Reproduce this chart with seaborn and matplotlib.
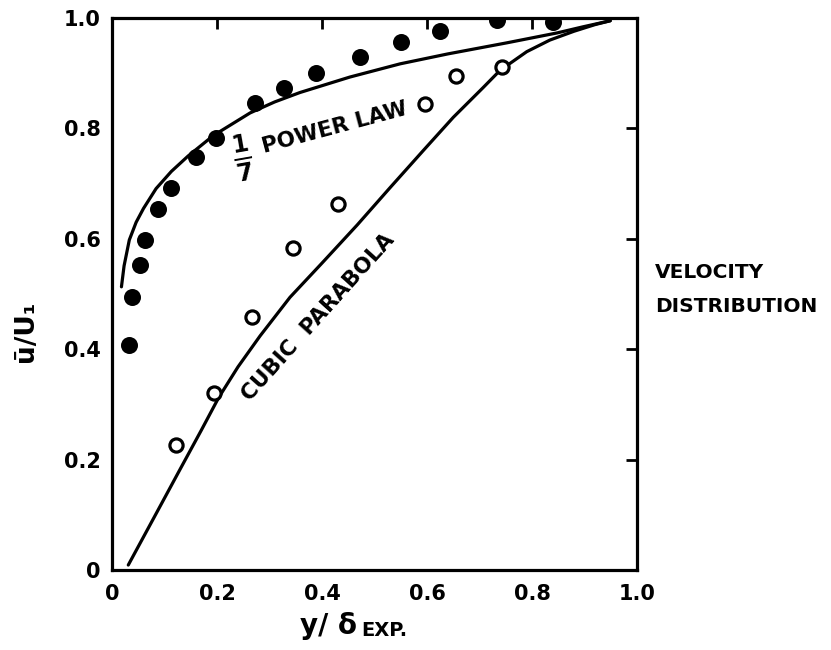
import matplotlib
matplotlib.use("Agg")
import matplotlib.pyplot as plt
import seaborn as sns
import pandas as pd

# Measured points: filled circles
filled_x = [0.032, 0.038, 0.053, 0.063, 0.087, 0.112, 0.160, 0.198, 0.272, 0.328,
            0.388, 0.472, 0.550, 0.625, 0.733, 0.840]
filled_y = [0.408, 0.495, 0.553, 0.598, 0.654, 0.692, 0.748, 0.783, 0.846, 0.873,
            0.900, 0.929, 0.956, 0.976, 0.997, 0.993]

# Measured points: open circles
open_x = [0.122, 0.194, 0.267, 0.345, 0.430, 0.596, 0.655, 0.743]
open_y = [0.226, 0.321, 0.459, 0.583, 0.663, 0.844, 0.895, 0.911]

# 1/7 power law curve
power_x = [0.018, 0.023, 0.033, 0.046, 0.060, 0.084, 0.113, 0.145, 0.193, 0.263,
           0.310, 0.358, 0.453, 0.549, 0.640, 0.752, 0.848, 0.897, 0.949]
power_y = [0.513, 0.551, 0.598, 0.630, 0.655, 0.691, 0.722, 0.750, 0.787, 0.828,
           0.848, 0.865, 0.893, 0.917, 0.935, 0.955, 0.973, 0.984, 0.995]

# Cubic parabola curve
cubic_x = [0.031, 0.080, 0.130, 0.170, 0.203, 0.240, 0.282, 0.339, 0.400, 0.467,
           0.530, 0.593, 0.650, 0.707, 0.739, 0.790, 0.834, 0.880, 0.920, 0.949]
cubic_y = [0.009, 0.095, 0.183, 0.253, 0.312, 0.368, 0.424, 0.494, 0.556, 0.625,
           0.693, 0.760, 0.820, 0.874, 0.905, 0.939, 0.960, 0.976, 0.988, 0.995]

tick_vals = [0, 0.2, 0.4, 0.6, 0.8, 1.0]
tick_labels = ["0", "0.2", "0.4", "0.6", "0.8", "1.0"]

sns.set_theme(style="white")
plt.rcParams["font.family"] = ["DejaVu Sans"]
plt.rcParams["font.weight"] = "bold"
plt.rcParams["text.color"] = "black"
plt.rcParams["mathtext.fontset"] = "dejavusans"

fig = plt.figure(figsize=(8.31, 6.5), dpi=100)
ax = fig.add_axes([112 / 831, 80 / 650, 525 / 831, 552 / 650])

df_f = pd.DataFrame({"x": filled_x, "y": filled_y})
df_o = pd.DataFrame({"x": open_x, "y": open_y})
df_p = pd.DataFrame({"x": power_x, "y": power_y})
df_c = pd.DataFrame({"x": cubic_x, "y": cubic_y})

sns.lineplot(data=df_p, x="x", y="y", ax=ax, color="black", lw=2.3,
             estimator=None, sort=True)
sns.lineplot(data=df_c, x="x", y="y", ax=ax, color="black", lw=2.3,
             estimator=None, sort=True)
sns.scatterplot(data=df_f, x="x", y="y", ax=ax, color="black", s=150,
                edgecolor="black", linewidth=0, zorder=3)
sns.scatterplot(data=df_o, x="x", y="y", ax=ax, facecolor="white", s=90,
                edgecolor="black", linewidth=2.3, zorder=3)

ax.set_xlim(0, 1.0)
ax.set_ylim(0, 1.0)
ax.set_xticks(tick_vals)
ax.set_xticklabels(tick_labels)
ax.set_yticks(tick_vals)
ax.set_yticklabels(tick_labels)
ax.tick_params(direction="in", length=8, width=2, top=True, right=True,
               labelsize=15, colors="black")
ax.tick_params(axis="x", pad=10)
ax.tick_params(axis="y", pad=8)
for lab in ax.get_xticklabels() + ax.get_yticklabels():
    lab.set_fontweight("bold")
for sp in ax.spines.values():
    sp.set_linewidth(2.3)
    sp.set_color("black")
    sp.set_zorder(5)
ax.set_xlabel("")
ax.set_ylabel("")

# axis labels
fig.text(26 / 831, 1 - 331 / 650, "ū/U₁", rotation=90, fontsize=19,
         fontweight="bold", ha="center", va="center", color="black")
fig.text(328 / 831, 1 - 626 / 650, "y/ δ", fontsize=20, fontweight="bold",
         ha="center", va="center", color="black")
fig.text(384 / 831, 1 - 630 / 650, "EXP.", fontsize=14, fontweight="bold",
         ha="center", va="center", color="black")

# curve annotations
ax.text(0.250, 0.746, r"$\mathbf{\frac{1}{7}}$", fontsize=25, ha="center",
        va="center", rotation=10, color="black")
ax.text(0.425, 0.801, "POWER LAW", fontsize=15.5, fontweight="bold",
        ha="center", va="center", rotation=15, color="black")
ax.text(0.392, 0.458, "CUBIC  PARABOLA", fontsize=15.5, fontweight="bold",
        ha="center", va="center", rotation=48, color="black")

fig.text(655 / 831, 1 - 273 / 650, "VELOCITY", fontsize=14.5,
         fontweight="bold", ha="left", va="center", color="black")
fig.text(655 / 831, 1 - 306 / 650, "DISTRIBUTION", fontsize=14.5,
         fontweight="bold", ha="left", va="center", color="black")

fig.savefig("out.png", dpi=100, facecolor="white")
